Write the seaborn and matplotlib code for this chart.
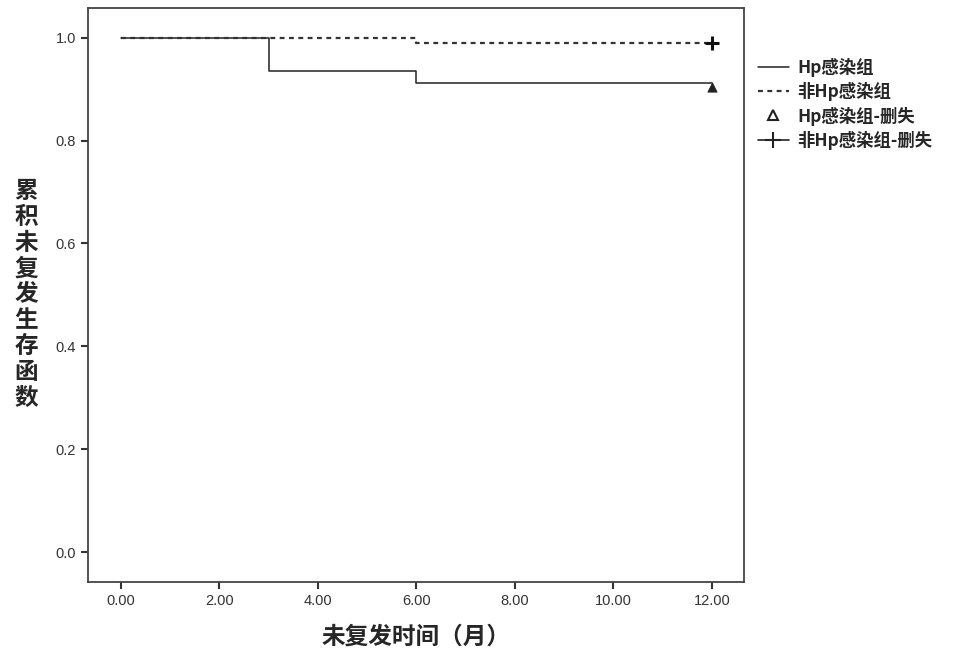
import matplotlib
matplotlib.use("Agg")
import matplotlib.pyplot as plt
import seaborn as sns
import pandas as pd
from matplotlib.lines import Line2D

# Kaplan-Meier style step data
hp_time = [0, 3, 6, 12]
hp_surv = [1.0, 0.935, 0.913, 0.913]
nonhp_time = [0, 6, 12]
nonhp_surv = [1.0, 0.990, 0.990]
hp_censor_time = [12]
hp_censor_surv = [0.905]
nonhp_censor_time = [12]
nonhp_censor_surv = [0.990]

x_ticks = [0, 2, 4, 6, 8, 10, 12]
y_ticks = [0.0, 0.2, 0.4, 0.6, 0.8, 1.0]
legend_labels = ["Hp感染组", "非Hp感染组", "Hp感染组-删失", "非Hp感染组-删失"]
x_title = "未复发时间（月）"
y_title = "累积未复发生存函数"

sns.set_theme(style="white")
plt.rcParams["font.family"] = ["Noto Sans CJK SC", "DejaVu Sans"]

fig = plt.figure(figsize=(9.65, 6.62), dpi=100)
ax = fig.add_axes([0.091, 0.121, 0.680, 0.867])

hp = pd.DataFrame({"t": hp_time, "s": hp_surv})
nonhp = pd.DataFrame({"t": nonhp_time, "s": nonhp_surv})

sns.lineplot(data=hp, x="t", y="s", ax=ax, color="#222222", lw=1.1,
             drawstyle="steps-post", estimator=None)
sns.lineplot(data=nonhp, x="t", y="s", ax=ax, color="#333333", lw=1.6,
             drawstyle="steps-post", estimator=None, dashes=False)
ax.lines[-1].set_dashes([2.2, 2.0])

sns.scatterplot(x=hp_censor_time, y=hp_censor_surv, ax=ax, marker="^",
                s=45, color="#222222", edgecolor="#222222", zorder=5)
sns.scatterplot(x=nonhp_censor_time, y=nonhp_censor_surv, ax=ax, marker="+",
                s=90, color="#111111", linewidth=2.2, zorder=5)

ax.set_xlim(-0.67, 12.65)
ax.set_ylim(-0.058, 1.058)
ax.set_xticks(x_ticks)
ax.set_xticklabels([f"{v:.2f}" for v in x_ticks], fontsize=10.5,
                   color="#333333", family=["Liberation Sans", "DejaVu Sans"])
ax.set_yticks(y_ticks)
ax.set_yticklabels([f"{v:.1f}" for v in y_ticks], fontsize=10.5,
                   color="#333333", family=["Liberation Sans", "DejaVu Sans"])
ax.tick_params(axis="both", direction="out", length=5, width=1.5,
               color="#333333", bottom=True, left=True)
for sp in ax.spines.values():
    sp.set_color("#444444")
    sp.set_linewidth(1.3)

ax.set_xlabel(x_title, fontsize=17, fontweight="bold", labelpad=12)
ax.set_ylabel("")
fig.text(0.027, 0.555, "\n".join(y_title), fontsize=17, fontweight="bold",
         ha="center", va="center", linespacing=1.1)

handles = [
    Line2D([], [], color="#222222", lw=1.1, drawstyle="steps-post"),
    Line2D([], [], color="#333333", lw=1.6, dashes=[2.2, 2.0]),
    Line2D([], [], color="#222222", marker="^", ls="none", markersize=7,
           markerfacecolor="none", markeredgewidth=1.5),
    Line2D([], [], color="#222222", marker="+", lw=1.2, markersize=12,
           markeredgewidth=1.5),
]
fig.legend(handles, legend_labels, loc="upper left",
           bbox_to_anchor=(0.778, 0.923), frameon=False,
           prop={"weight": "bold", "size": 12.5},
           handlelength=1.8, handletextpad=0.5, labelspacing=0.3,
           borderaxespad=0)

fig.savefig("out.png", dpi=100)
